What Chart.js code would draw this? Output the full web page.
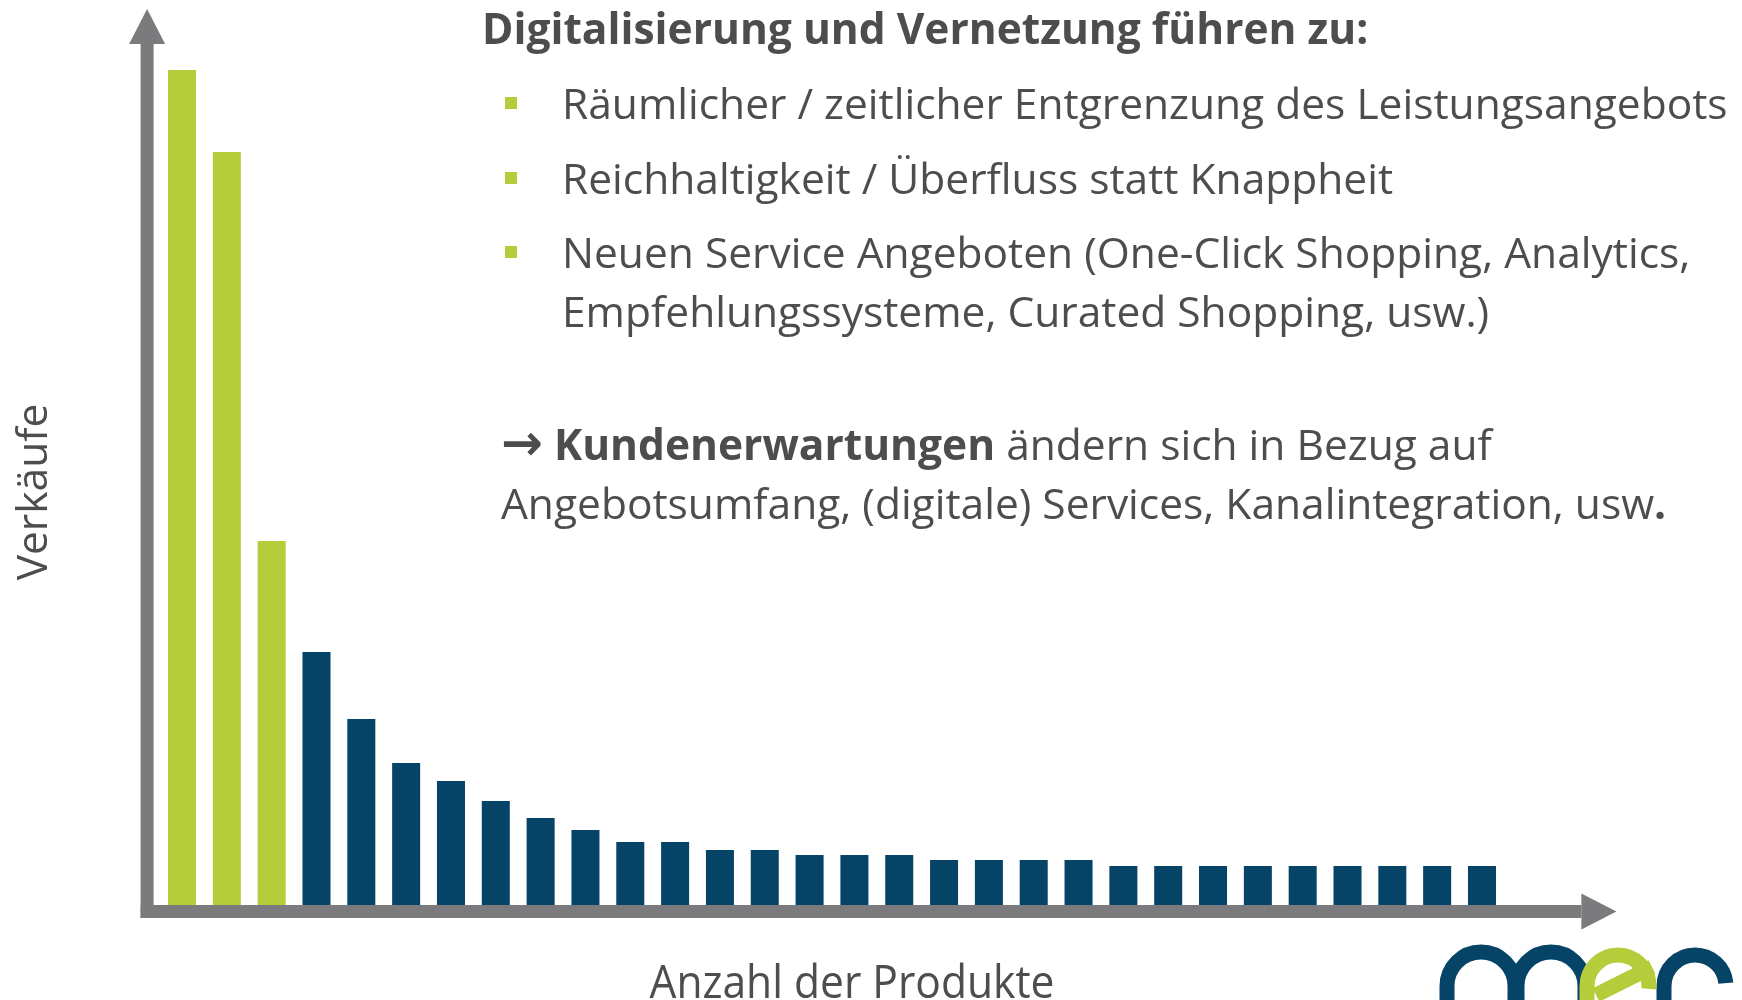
<!DOCTYPE html>
<html lang="de">
<head>
<meta charset="utf-8">
<title>Long Tail</title>
<script src="https://cdn.jsdelivr.net/npm/chart.js@4/dist/chart.umd.min.js"></script>
<style>
    html, body { margin: 0; padding: 0; background: #ffffff; }
    #wrap { position: relative; width: 1742px; height: 1000px; overflow: hidden; font-family: "Open Sans", "DejaVu Sans", sans-serif; color: #4d4d4f; }
    #myChart { position: absolute; left: 0; top: 0; }
    .zeile { position: absolute; white-space: nowrap; height: 50px; line-height: 50px; font-size: 42.5px; }
    .titel { font-weight: 700; }
    .pfeil { font-size: 50px; line-height: 40px; }
    .punkt { position: absolute; width: 12px; height: 12px; background: #b5cd3b; }
    .achse { position: absolute; white-space: nowrap; text-align: center; height: 60px; line-height: 60px; }
</style>
</head>
<body>
<div id="wrap">
    <canvas id="myChart" width="1742" height="1000"></canvas>

    <div class="zeile titel" style="left:482px; top:3px;">Digitalisierung und Vernetzung führen zu:</div>

    <div class="punkt" style="left:505px; top:97px;"></div>
    <div class="zeile" style="left:562px; top:78px;">Räumlicher / zeitlicher Entgrenzung des Leistungsangebots</div>

    <div class="punkt" style="left:505px; top:172px;"></div>
    <div class="zeile" style="left:562px; top:153px;">Reichhaltigkeit / Überfluss statt Knappheit</div>

    <div class="punkt" style="left:505px; top:246px;"></div>
    <div class="zeile" style="left:562px; top:227px;">Neuen Service Angeboten (One-Click Shopping, Analytics,</div>
    <div class="zeile" style="left:562px; top:286px;">Empfehlungssysteme, Curated Shopping, usw.)</div>

    <div class="zeile" style="left:501px; top:419px;"><b><span class="pfeil">&#8594;</span> Kundenerwartungen</b> ändern sich in Bezug auf</div>
    <div class="zeile" style="left:501px; top:478px;">Angebotsumfang, (digitale) Services, Kanalintegration, usw<b>.</b></div>

    <div class="achse" style="left:-119px; top:462px; width:300px; font-size:42.5px; transform: rotate(-90deg);">Verkäufe</div>
    <div class="achse" style="left:602px; top:950px; width:500px; font-size:46px; transform: scaleX(0.925);">Anzahl der Produkte</div>
</div>

<script>
// Werte (Einheit beliebig)
var produkte = [];
for (var i = 1; i <= 30; i++) { produkte.push('P' + i); }

var verkaeufe = [83.5, 75.3, 36.4, 25.3, 18.6, 14.2, 12.4, 10.4, 8.7, 7.5,
                 6.3, 6.3, 5.5, 5.5, 5.0, 5.0, 5.0, 4.5, 4.5, 4.5,
                 4.5, 3.9, 3.9, 3.9, 3.9, 3.9, 3.9, 3.9, 3.9, 3.9];

var anzahlHits = 3; // die ersten Produkte sind grün hervorgehoben

var gruen = '#b5cd3b';
var blau = '#054466';
var grau = '#7b7b7d';

var farben = verkaeufe.map(function (v, i) {
    return i < anzahlHits ? gruen : blau;
});

// Bogen mit senkrechten Schenkeln (für das Logo)
function bogen(ctx, cx, cy, r, start, ende, linksRunter, rechtsRunter) {
    ctx.beginPath();
    if (linksRunter) {
        ctx.moveTo(cx + r * Math.cos(start), 1010);
    }
    ctx.arc(cx, cy, r, start, ende);
    if (rechtsRunter) {
        ctx.lineTo(cx + r * Math.cos(ende), 1010);
    }
    ctx.stroke();
}

// Achsenpfeile und Logo zeichnen
var pfeilePlugin = {
    id: 'pfeile',
    afterDatasetsDraw: function (chart) {
        var ctx = chart.ctx;
        var area = chart.chartArea;
        var dicke = 13;
        var xAchse = area.left - 12.5;   // Mitte der y-Achse
        var yOben = area.bottom;         // Oberkante der x-Achse

        ctx.save();
        ctx.fillStyle = grau;

        // y-Achse
        ctx.fillRect(xAchse - dicke / 2, 44, dicke, yOben + dicke - 44);
        ctx.beginPath();
        ctx.moveTo(xAchse, 9);
        ctx.lineTo(xAchse + 18, 44);
        ctx.lineTo(xAchse - 18, 44);
        ctx.closePath();
        ctx.fill();

        // x-Achse
        var ende = area.right + 77;
        ctx.fillRect(xAchse - dicke / 2, yOben, ende - (xAchse - dicke / 2), dicke);
        ctx.beginPath();
        ctx.moveTo(ende + 35, yOben + dicke / 2);
        ctx.lineTo(ende, yOben + dicke / 2 - 18);
        ctx.lineTo(ende, yOben + dicke / 2 + 18);
        ctx.closePath();
        ctx.fill();

        // Logo unten rechts (angeschnitten)
        ctx.lineWidth = 15;
        ctx.strokeStyle = blau;
        bogen(ctx, 1481, 986, 34, Math.PI, 2 * Math.PI, true, true);
        bogen(ctx, 1551, 986, 34, Math.PI, 2 * Math.PI, true, true);
        bogen(ctx, 1695, 986, 31, Math.PI, Math.PI * 1.97, true, false);

        ctx.strokeStyle = gruen;
        bogen(ctx, 1618, 986, 31, Math.PI, Math.PI * 2.03, true, false);
        ctx.beginPath();
        ctx.moveTo(1596, 995);
        ctx.lineTo(1652, 967);
        ctx.stroke();

        ctx.restore();
    }
};

var myChart = new Chart(document.getElementById('myChart').getContext('2d'), {
    type: 'bar',
    data: {
        labels: produkte,
        datasets: [{
            label: 'Verkäufe',
            data: verkaeufe,
            backgroundColor: farben,
            borderWidth: 0,
            barPercentage: 0.625,
            categoryPercentage: 1.0
        }]
    },
    options: {
        responsive: false,
        animation: false,
        events: [],
        layout: {
            padding: { left: 159.6, right: 237.6, top: 25, bottom: 95 }
        },
        plugins: {
            legend: { display: false },
            tooltip: { enabled: false }
        },
        scales: {
            x: { display: false },
            y: { display: false, min: 0, max: 88 }
        }
    },
    plugins: [pfeilePlugin]
});
</script>
</body>
</html>
